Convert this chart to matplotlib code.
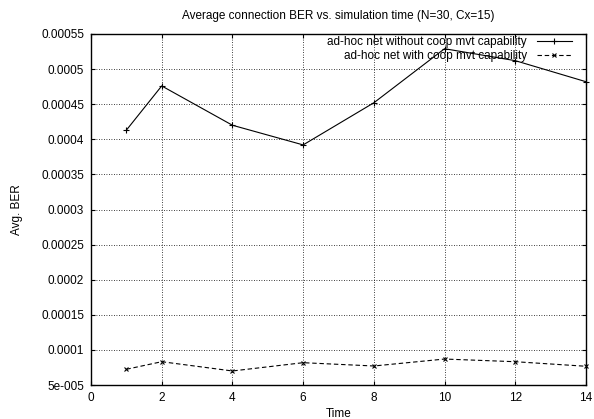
import numpy as np
import matplotlib
matplotlib.use('Agg')
import matplotlib.pyplot as plt

plt.rcParams['font.family'] = ['Liberation Sans', 'DejaVu Sans']
plt.rcParams['font.size'] = 8.5

# データ
time = [1, 2, 4, 6, 8, 10, 12, 14]
ber_without = [0.000413, 0.000476, 0.000420, 0.000392, 0.000452, 0.000529, 0.000512, 0.000482]
ber_with = [0.0000724, 0.0000832, 0.0000700, 0.0000818, 0.0000771, 0.0000870, 0.0000832, 0.0000767]

label_without = 'ad-hoc net without coop mvt capability'
label_with = 'ad-hoc net with coop mvt capability'

yticks = [0.00005, 0.0001, 0.00015, 0.0002, 0.00025, 0.0003, 0.00035, 0.0004, 0.00045, 0.0005, 0.00055]
yticklabels = ['5e-005', '0.0001', '0.00015', '0.0002', '0.00025', '0.0003',
               '0.00035', '0.0004', '0.00045', '0.0005', '0.00055']
xticks = [0, 2, 4, 6, 8, 10, 12, 14]

fig = plt.figure(figsize=(5.94, 4.19), dpi=100)
ax = fig.add_axes([0.1532, 0.0811, 0.8333, 0.8378])

ax.plot(time, ber_without, color='black', lw=0.8, marker='+', ms=5, mew=0.8,
        label=label_without, clip_on=False)
ax.plot(time, ber_with, color='black', lw=0.8, ls=(0, (4, 2.5)), marker='x', ms=3.5, mew=0.8,
        label=label_with, clip_on=False)

ax.set_xlim(0, 14)
ax.set_ylim(0.00005, 0.00055)
ax.set_xticks(xticks)
ax.set_xticklabels([str(t) for t in xticks])
ax.set_yticks(yticks)
ax.set_yticklabels(yticklabels)

ax.tick_params(direction='in', length=3, width=0.8, top=True, right=True, pad=5)
ax.grid(True, color='black', ls=(0, (1, 2)), lw=0.6)
for s in ax.spines.values():
    s.set_linewidth(1.0)

ax.set_title('Average connection BER vs. simulation time (N=30, Cx=15)', fontsize=8.5, pad=11)
ax.set_xlabel('Time', labelpad=3)
ax.set_ylabel('Avg. BER', labelpad=13)

leg = ax.legend(loc='upper right', bbox_to_anchor=(1 - 14 / 495, 1 - 2 / 351),
                frameon=False, markerfirst=False, handlelength=3.0,
                handletextpad=0.8, labelspacing=0.15, borderaxespad=0, borderpad=0)

fig.savefig('out.png', dpi=100)
